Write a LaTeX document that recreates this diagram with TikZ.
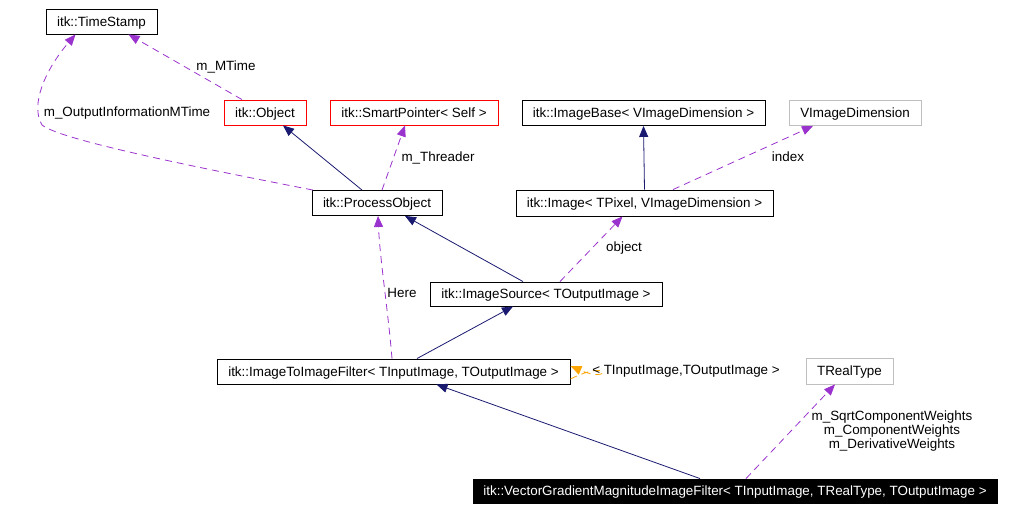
\documentclass[tikz,border=0pt]{standalone}
\usepackage{fontspec}
\setmainfont{Liberation Sans}
\usetikzlibrary{arrows.meta}
\definecolor{navyc}{HTML}{191970}
\definecolor{purp}{HTML}{9A32CD}
\definecolor{orng}{HTML}{FFA500}
\definecolor{grayb}{HTML}{BFBFBF}
\definecolor{redb}{HTML}{FF0000}
\begin{document}
\begin{tikzpicture}[x=1pt,y=-1pt,
  every node/.style={font=\fontsize{13.4}{14}\selectfont, inner sep=0pt},
  cls/.style={draw=black, line width=0.9pt, minimum height=25pt, fill=white, text height=9.5pt, text depth=0pt},
  redcls/.style={cls, draw=redb},
  graycls/.style={cls, draw=grayb},
  maincls/.style={cls, fill=black, text=white, minimum height=24pt},
  tip/.style={-{Triangle[length=11pt,width=9pt]}},
  inherit/.style={tip, draw=navyc, line width=0.8pt},
  usage/.style={tip, draw=purp, line width=0.8pt, dash pattern=on 7pt off 5pt},
  tmpl/.style={tip, draw=orng, line width=0.8pt, dash pattern=on 7pt off 5pt},
  lbl/.style={fill=none, text height=9.5pt, text depth=0pt},
  mlbl/.style={fill=none, align=center}
]
\path[use as bounding box] (0,0) rectangle (1018,511);

% nodes
\node[cls, minimum width=111pt] (ts) at (101.5,21.5) {itk::TimeStamp};
\node[redcls, minimum width=82pt] (obj) at (265,112.5) {itk::Object};
\node[redcls, minimum width=168pt] (sp) at (414,112.5) {itk::SmartPointer< Self >};
\node[cls, minimum width=243pt] (ib) at (643.5,113) {itk::ImageBase< VImageDimension >};
\node[graycls, minimum width=132pt] (vd) at (855,113) {VImageDimension};
\node[cls, minimum width=130pt] (po) at (377,203) {itk::ProcessObject};
\node[cls, minimum width=257pt, minimum height=26pt] (img) at (644.5,203) {itk::Image< TPixel, VImageDimension >};
\node[cls, minimum width=232pt, minimum height=24pt] (is) at (546,294) {itk::ImageSource< TOutputImage >};
\node[cls, minimum width=353pt] (itf) at (393.5,371.5) {itk::ImageToImageFilter< TInputImage, TOutputImage >};
\node[graycls, minimum width=87pt, minimum height=26pt] (rt) at (849.5,371) {TRealType};
\node[maincls, minimum width=524pt] (vg) at (735,491) {itk::VectorGradientMagnitudeImageFilter< TInputImage, TRealType, TOutputImage >};

% edges
\draw[usage] ([xshift=-23pt]obj.north) -- ([xshift=27pt]ts.south);
\node[lbl] (lmt) at (226,66) {m\_MTime};

\draw[usage] ([xshift=-64pt]po.north) .. controls (200,168) and (60,140) .. (42,125)
  .. controls (30,105) and (45,70) .. ([xshift=-26pt]ts.south);
\node[lbl] (loim) at (127,112) {m\_OutputInformationMTime};

\draw[inherit] ([xshift=-15pt]po.north) -- ([xshift=18pt]obj.south);
\draw[usage] ([xshift=5pt]po.north) -- ([xshift=-9pt]sp.south);
\node[lbl] (lthr) at (438,157) {m\_Threader};

\draw[inherit] (img.north) -- (ib.south);
\draw[usage] ([xshift=28.5pt]img.north) -- ([xshift=-42pt]vd.south);
\node[lbl] (lidx) at (788,157) {index};

\draw[inherit] ([xshift=-23pt]is.north) -- ([xshift=28pt]po.south);
\draw[usage] ([xshift=14pt]is.north) -- ([xshift=-22pt]img.south);
\node[lbl] (lobj) at (624,247) {object};

\draw[inherit] ([xshift=23.5pt]itf.north) -- ([xshift=-33pt]is.south);
\draw[usage] ([xshift=-1.5pt]itf.north) .. controls (388,310) and (380,260) .. ([xshift=1pt]po.south);
\node[lbl] (lhere) at (402,293) {Here};

\draw[tmpl] ([yshift=-7.5pt]itf.east) .. controls (612,358) and (612,384) .. ([yshift=5.5pt]itf.east);
\node[lbl] (ltmpl) at (686,370) {< TInputImage,TOutputImage >};

\draw[inherit] ([xshift=-35pt]vg.north) -- ([xshift=43pt]itf.south);
\draw[usage] ([xshift=11pt]vg.north) -- ([xshift=-14.5pt]rt.south);
\node[mlbl] (lw) at (892,431.5) {m\_SqrtComponentWeights\\m\_ComponentWeights\\m\_DerivativeWeights};
\end{tikzpicture}
\end{document}
